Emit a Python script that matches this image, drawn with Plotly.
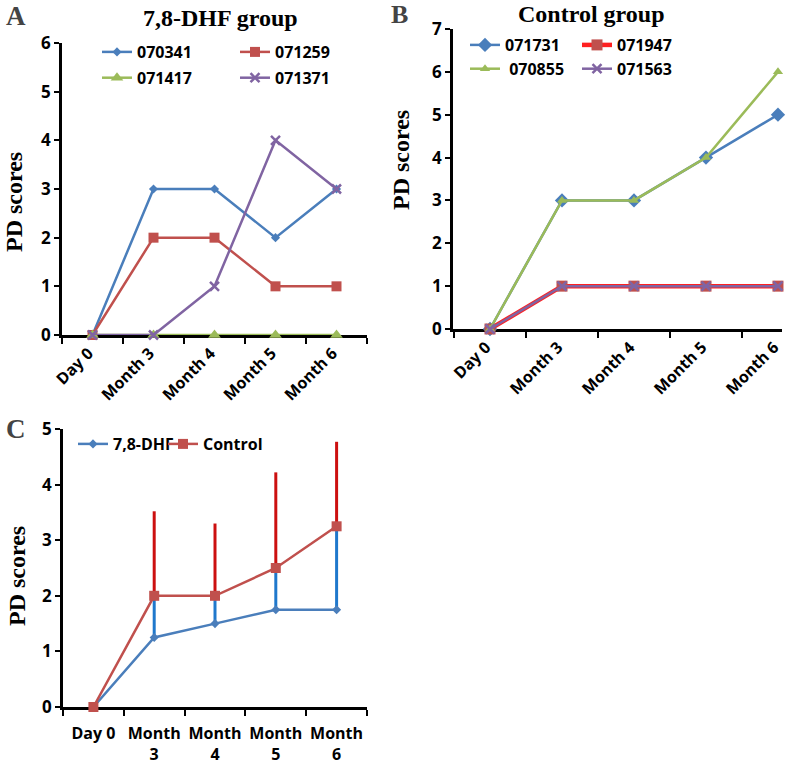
import plotly.graph_objects as go

W, H = 787, 764

# ---------------- data ----------------
cats_ab = ["Day 0", "Month 3", "Month 4", "Month 5", "Month 6"]
cats_c = ["Day 0", "Month<br>3", "Month<br>4", "Month<br>5", "Month<br>6"]

a_names = ["070341", "071259", "071417", "071371"]
a_070341 = [0, 3, 3, 2, 3]
a_071259 = [0, 2, 2, 1, 1]
a_071417 = [0, 0, 0, 0, 0]
a_071371 = [0, 0, 1, 4, 3]

b_names = ["071731", "071947", " 070855", "071563"]
b_071731 = [0, 3, 3, 4, 5]
b_071947 = [0, 1, 1, 1, 1]
b_070855 = [0, 3, 3, 4, 6]
b_071563 = [0, 1, 1, 1, 1]

c_names = ["7,8-DHF", "Control"]
c_dhf = [0, 1.25, 1.5, 1.75, 1.75]
c_dhf_err = [0, 0.75, 0.5, 0.75, 1.5]
c_ctrl = [0, 2, 2, 2.5, 3.25]
c_ctrl_err = [0, 1.52, 1.3, 1.72, 1.52]

# ---------------- styles ----------------
BLUE = "#4A7EBB"
RED = "#C0504D"
GREEN = "#9BBB59"
PURPLE = "#8064A2"
SANS = "Open Sans"
SERIF = "Liberation Serif"


def px(x):
    return x / W


def py(y):
    return 1 - y / H


fig = go.Figure()


def add(x, y, name, color, symbol, size, xa, ya, legend, group, lw=2.5,
        mline=None, err=None, errcolor=None, linecolor=None):
    marker = dict(color=color, symbol=symbol, size=size)
    if mline:
        marker["line"] = mline
    kw = {}
    if err is not None:
        kw["error_y"] = dict(type="data", symmetric=False, array=err,
                             arrayminus=[0] * len(err), color=errcolor,
                             thickness=3, width=0)
    fig.add_trace(go.Scatter(
        x=x, y=y, name=name, mode="lines+markers",
        line=dict(color=linecolor or color, width=lw), marker=marker,
        xaxis=xa, yaxis=ya, legend=legend, legendgroup=group,
        cliponaxis=False, **kw))


# Panel A
add(cats_ab, a_070341, a_names[0], BLUE, "diamond", 7, "x", "y", "legend", "a1")
add(cats_ab, a_071259, a_names[1], RED, "square", 10, "x", "y", "legend2", "a2")
add(cats_ab, a_071417, a_names[2], GREEN, "triangle-up", 11, "x", "y", "legend", "a3")
add(cats_ab, a_071371, a_names[3], PURPLE, "x-thin", 9, "x", "y", "legend2", "a4",
    mline=dict(color=PURPLE, width=2.5))

# Panel B
add(cats_ab, b_071731, b_names[0], BLUE, "diamond", 11, "x2", "y2", "legend3", "b1")
add(cats_ab, b_071947, b_names[1], RED, "square", 11, "x2", "y2", "legend4", "b2",
    lw=4.5, linecolor="#FF2020")
add(cats_ab, b_070855, b_names[2], GREEN, "triangle-up", 9, "x2", "y2", "legend3", "b3")
add(cats_ab, b_071563, b_names[3], PURPLE, "x-thin", 9, "x2", "y2", "legend4", "b4",
    mline=dict(color=PURPLE, width=2.5))

# Panel C
add(cats_c, c_dhf, c_names[0], BLUE, "diamond", 7, "x3", "y3", "legend5", "c1",
    err=c_dhf_err, errcolor="#1F78CC")
add(cats_c, c_ctrl, c_names[1], RED, "square", 10, "x3", "y3", "legend6", "c2",
    err=c_ctrl_err, errcolor="#CC1010")

tickfont = dict(family=SANS, size=17, color="black", weight="bold")
xfont = dict(family=SANS, size=16, color="black", weight="bold")

yax_common = dict(showline=True, linecolor="black", linewidth=2.5, ticks="outside",
                  ticklen=5, tickwidth=2, tickcolor="black", showgrid=False,
                  zeroline=False, dtick=1, tickfont=tickfont, layer="below traces",
                  fixedrange=True, automargin=False)
xax_common = dict(showline=True, linecolor="black", linewidth=2.5, ticks="outside",
                  ticklen=6, tickwidth=2, tickcolor="black", showgrid=False,
                  zeroline=False, tickson="boundaries", tickfont=xfont,
                  type="category", layer="below traces", fixedrange=True,
                  automargin=False)

fig.update_layout(
    template="none",
    width=W, height=H, margin=dict(l=0, r=0, t=0, b=0, pad=0, autoexpand=False),
    paper_bgcolor="white", plot_bgcolor="white",
    xaxis=dict(domain=[px(62), px(367)], anchor="y", range=[-0.5, 4.5],
               categoryarray=cats_ab, tickangle=-45, ticklabelshift=-4, **xax_common),
    yaxis=dict(domain=[py(335), py(43)], anchor="x", range=[0, 6], **yax_common),
    xaxis2=dict(domain=[px(453), px(782)], anchor="y2", range=[-0.514, 4.056],
                categoryarray=cats_ab, tickangle=-45, ticklabelshift=-4, **xax_common),
    yaxis2=dict(domain=[py(329), py(29)], anchor="x2", range=[0, 7], **yax_common),
    xaxis3=dict(domain=[px(63), px(367)], anchor="y3", range=[-0.5, 4.5],
                categoryarray=cats_c, tickangle=0, ticklabelstandoff=10, **xax_common),
    yaxis3=dict(domain=[py(707), py(429)], anchor="x3", range=[0, 5], **yax_common),
    showlegend=True,
)

legfont = dict(family=SANS, size=16, color="black", weight="bold")


def leg(xp, yp, gap):
    return dict(x=px(xp), y=py(yp), xanchor="left", yanchor="top",
                xref="paper", yref="paper", font=legfont, bgcolor="rgba(0,0,0,0)",
                borderwidth=0, itemwidth=30, traceorder="grouped",
                tracegroupgap=gap, orientation="v")


fig.update_layout(
    legend=leg(97, 35, 2), legend2=leg(235, 35, 2),
    legend3=leg(465, 28, 0), legend4=leg(577, 28, 0),
    legend5=leg(73, 427, 0), legend6=leg(163, 427, 0),
)

anns = [
    dict(text="<b>A</b>", x=px(4), y=py(16), font=dict(family=SERIF, size=27)),
    dict(text="<b>B</b>", x=px(389), y=py(15), font=dict(family=SERIF, size=26)),
    dict(text="<b>C</b>", x=px(4), y=py(429), font=dict(family=SERIF, size=27)),
]
for a in anns:
    a.update(xref="paper", yref="paper", xanchor="left", yanchor="middle",
             showarrow=False)
    fig.add_annotation(**a)

titles = [
    ("<b>7,8-DHF group</b>", 220, 18),
    ("<b>Control group</b>", 591, 14),
]
for t, x, y in titles:
    fig.add_annotation(text=t, x=px(x), y=py(y), xref="paper", yref="paper",
                       xanchor="center", yanchor="middle", showarrow=False,
                       font=dict(family=SERIF, size=24, color="black"))

ytitles = [(14, 202), (401, 160), (17, 576)]
for x, y in ytitles:
    fig.add_annotation(text="<b>PD scores</b>", x=px(x), y=py(y), xref="paper",
                       yref="paper", xanchor="center", yanchor="middle",
                       showarrow=False, textangle=-90,
                       font=dict(family=SERIF, size=24, color="black"))

# remove the browser's default page margin so the figure fills the window
fig.write_html("out.html", config={"displayModeBar": False},
               post_script="document.body.style.margin='0px';")
